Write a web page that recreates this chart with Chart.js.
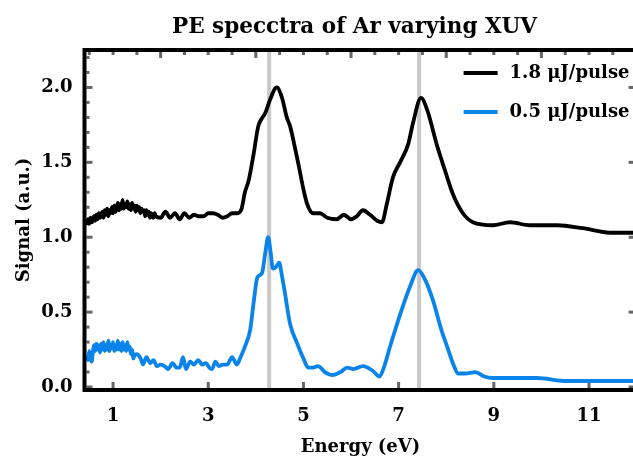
<!DOCTYPE html>
<html lang="en">
<head>
<meta charset="UTF-8">
<title>PE spectra</title>
<script src="https://cdn.jsdelivr.net/npm/chart.js"></script>
<style>
  html, body { margin: 0; padding: 0; overflow: hidden; background: #fff; }
  #wrap { width: 640px; height: 459px; }
</style>
</head>
<body>
<div id="wrap"><canvas id="myChart" width="640" height="459"></canvas></div>
<script>
// photoelectron energy (eV) and signal
const blackX = [0.450, 0.475, 0.500, 0.525, 0.550, 0.575, 0.600, 0.625, 0.650, 0.675, 0.700, 0.725, 0.750, 0.775, 0.800,
  0.825, 0.850, 0.875, 0.900, 0.925, 0.950, 0.975, 1.000, 1.025, 1.050, 1.075, 1.100, 1.125, 1.150, 1.175, 1.200,
  1.225, 1.250, 1.275, 1.300, 1.325, 1.350, 1.375, 1.400, 1.425, 1.450, 1.475, 1.500, 1.525, 1.550, 1.575, 1.600,
  1.625, 1.650, 1.675, 1.700, 1.725, 1.750, 1.775, 1.800, 1.825, 1.850, 1.875, 1.900,
  2.0, 2.1, 2.2, 2.3, 2.4, 2.5, 2.6, 2.7, 2.8, 2.9,
  3.0, 3.1, 3.2, 3.3, 3.4, 3.5, 3.6, 3.7, 3.77, 3.85, 3.95, 4.05, 4.12, 4.2, 4.3, 4.44, 4.55, 4.65, 4.72, 4.8,
  4.9, 5.0, 5.08, 5.2, 5.35, 5.5, 5.7, 5.85, 6.0, 6.12, 6.25, 6.4, 6.55, 6.65, 6.75, 6.88, 7.03, 7.2, 7.3, 7.47,
  7.6, 7.8, 8.0, 8.15, 8.35, 8.56, 8.98, 9.34, 9.76, 10.33, 10.87, 11.44, 12.0];
const blackY = [1.08, 1.12, 1.09, 1.13, 1.10, 1.11, 1.14, 1.11, 1.15, 1.12, 1.16, 1.13, 1.14, 1.17, 1.13,
  1.18, 1.15, 1.19, 1.14, 1.18, 1.16, 1.20, 1.16, 1.21, 1.17, 1.19, 1.23, 1.18, 1.22, 1.19, 1.25,
  1.19, 1.22, 1.20, 1.24, 1.19, 1.22, 1.18, 1.23, 1.19, 1.21, 1.17, 1.21, 1.18, 1.20, 1.16, 1.19,
  1.17, 1.18, 1.14, 1.18, 1.15, 1.17, 1.13, 1.16, 1.14, 1.13, 1.16, 1.14,
  1.13, 1.17, 1.13, 1.16, 1.12, 1.16, 1.13, 1.15, 1.14, 1.14,
  1.16, 1.16, 1.15, 1.13, 1.14, 1.16, 1.16, 1.19, 1.30, 1.38, 1.55, 1.74, 1.79, 1.83, 1.92, 2.00, 1.93, 1.80, 1.74, 1.63,
  1.48, 1.32, 1.22, 1.16, 1.16, 1.13, 1.12, 1.15, 1.12, 1.14, 1.18, 1.15, 1.11, 1.10, 1.22, 1.40, 1.50, 1.62, 1.76, 1.93,
  1.85, 1.62, 1.42, 1.28, 1.16, 1.10, 1.08, 1.10, 1.08, 1.08, 1.06, 1.03, 1.03];

const blueX = [0.450, 0.475, 0.500, 0.525, 0.550, 0.575, 0.600, 0.625, 0.650, 0.675, 0.700, 0.725, 0.750, 0.775, 0.800,
  0.825, 0.850, 0.875, 0.900, 0.925, 0.950, 0.975, 1.000, 1.025, 1.050, 1.075, 1.100, 1.125, 1.150, 1.175, 1.200,
  1.225, 1.250, 1.275, 1.300, 1.325, 1.350, 1.375, 1.400, 1.425, 1.450,
  1.50, 1.58, 1.63, 1.70, 1.78, 1.85, 1.92, 2.00, 2.08, 2.16, 2.25, 2.33, 2.40, 2.47, 2.53,
  2.62, 2.70, 2.79, 2.87, 2.95, 3.02, 3.08, 3.15, 3.22, 3.31, 3.40, 3.50, 3.60, 3.68, 3.77, 3.88, 3.96, 4.03, 4.13, 4.20,
  4.26, 4.31, 4.36, 4.42, 4.49, 4.55, 4.61, 4.72, 4.87, 5.0, 5.1, 5.2, 5.31, 5.45, 5.62, 5.78, 5.92, 6.05, 6.25, 6.45,
  6.6, 6.7, 6.82, 7.09, 7.25, 7.41, 7.55, 7.72, 7.9, 8.02, 8.15, 8.25, 8.4, 8.61, 8.8, 8.98, 9.4, 9.9, 10.54, 11.2, 12.0];
const blueY = [0.21, 0.18, 0.24, 0.19, 0.17, 0.23, 0.28, 0.24, 0.29, 0.25, 0.28, 0.23, 0.29, 0.25, 0.30,
  0.24, 0.28, 0.25, 0.31, 0.24, 0.28, 0.26, 0.30, 0.24, 0.28, 0.25, 0.31, 0.25, 0.29, 0.24, 0.30,
  0.25, 0.28, 0.24, 0.30, 0.25, 0.27, 0.22, 0.25, 0.19, 0.21,
  0.22, 0.19, 0.15, 0.20, 0.16, 0.18, 0.14, 0.15, 0.14, 0.12, 0.16, 0.13, 0.13, 0.20, 0.12,
  0.17, 0.15, 0.18, 0.15, 0.16, 0.13, 0.12, 0.17, 0.14, 0.15, 0.15, 0.20, 0.15, 0.20, 0.27, 0.38, 0.58, 0.73, 0.76, 0.90,
  1.00, 0.90, 0.79, 0.80, 0.83, 0.74, 0.63, 0.42, 0.29, 0.19, 0.13, 0.13, 0.14, 0.10, 0.08, 0.10, 0.13, 0.12, 0.14, 0.11,
  0.07, 0.14, 0.27, 0.54, 0.68, 0.78, 0.72, 0.58, 0.38, 0.27, 0.15, 0.09, 0.09, 0.10, 0.07, 0.06, 0.06, 0.06, 0.04, 0.04, 0.04];

const seriesLabels = ['1.8 \u03bcJ/pulse', '0.5 \u03bcJ/pulse'];
const xTickValues = [1, 3, 5, 7, 9, 11];
const yTickValues = [0, 0.5, 1.0, 1.5, 2.0];
const markerLines = [4.28, 7.43];   // gray guide lines
const chartTitle = 'PE specctra of Ar varying XUV';

const serif = "'DejaVu Serif', serif";

function toPoints(xs, ys) {
    return xs.map((v, i) => ({ x: v, y: ys[i] }));
}

// frame, inward ticks, guide lines, title and legend
const framePlugin = {
    id: 'frame',
    beforeDatasetsDraw(chart) {
        const { ctx, chartArea: a, scales: { x, y } } = chart;
        ctx.save();
        ctx.strokeStyle = '#c8c8c8';
        ctx.lineWidth = 4;
        markerLines.forEach(v => {
            const px = x.getPixelForValue(v);
            ctx.beginPath();
            ctx.moveTo(px, a.top);
            ctx.lineTo(px, a.bottom);
            ctx.stroke();
        });

        ctx.fillStyle = '#666';
        // left: minor every 0.1, longer at 0.5
        for (let i = 0; i <= 22; i++) {
            const py = y.getPixelForValue(i / 10);
            ctx.fillRect(a.left + 2, py - 1.5, i % 5 === 0 ? 6 : 3, 3);
        }
        // right: major only
        yTickValues.forEach(v => {
            const py = y.getPixelForValue(v);
            ctx.fillRect(a.right - 8, py - 1.5, 6, 3);
        });
        // top: every 0.5, longer at even numbers
        for (let i = 1; i <= 24; i++) {
            const px = x.getPixelForValue(i / 2);
            ctx.fillRect(px - 1.5, a.top + 2, 3, i % 4 === 0 ? 6 : 3);
        }
        // bottom: labelled ticks
        xTickValues.forEach(v => {
            const px = x.getPixelForValue(v);
            ctx.fillRect(px - 1.5, a.bottom - 8, 3, 6);
        });
        ctx.restore();
    },
    afterDatasetsDraw(chart) {
        const { ctx, chartArea: a } = chart;
        ctx.save();
        ctx.strokeStyle = '#000';
        ctx.lineWidth = 4;
        ctx.strokeRect(a.left, a.top, a.right - a.left, a.bottom - a.top);

        // title
        ctx.fillStyle = '#000';
        ctx.font = 'bold 21.5px ' + serif;
        ctx.textAlign = 'center';
        ctx.textBaseline = 'alphabetic';
        ctx.fillText(chartTitle, (a.left + a.right) / 2 - 6, 33);

        // legend
        ctx.font = 'bold 18px ' + serif;
        ctx.textBaseline = 'middle';
        ctx.textAlign = 'left';
        chart.data.datasets.forEach((ds, i) => {
            const ly = a.top + 23 + i * 39;
            ctx.strokeStyle = ds.borderColor;
            ctx.lineWidth = 4;
            ctx.beginPath();
            ctx.moveTo(a.right - 173, ly);
            ctx.lineTo(a.right - 139, ly);
            ctx.stroke();
            ctx.fillStyle = '#000';
            ctx.fillText(ds.label, a.right - 127, ly);
        });
        ctx.restore();
    }
};

const ctx = document.getElementById('myChart');

new Chart(ctx, {
    type: 'line',
    data: {
        datasets: [
            {
                label: seriesLabels[0],
                data: toPoints(blackX, blackY),
                borderColor: '#000000',
            },
            {
                label: seriesLabels[1],
                data: toPoints(blueX, blueY),
                borderColor: '#0a84e8',
            }
        ]
    },
    options: {
        responsive: false,
        animation: false,
        devicePixelRatio: 1,
        layout: { padding: { left: 0, right: 3.4, top: 50, bottom: 0 } },
        elements: {
            point: { radius: 0 },
            line: { borderWidth: 3.8, cubicInterpolationMode: 'monotone', fill: false, borderJoinStyle: 'round' }
        },
        plugins: {
            legend: { display: false },
            tooltip: { enabled: false },
            title: { display: false }
        },
        scales: {
            x: {
                type: 'linear',
                min: 0.4,
                max: 12,
                afterBuildTicks: (scale) => { scale.ticks = xTickValues.map(v => ({ value: v })); },
                afterFit: (scale) => { scale.height = 69; },
                grid: { display: false, drawTicks: false },
                border: { display: false },
                ticks: {
                    color: '#000',
                    padding: 16,
                    maxRotation: 0,
                    font: { family: serif, size: 18, weight: 'bold' },
                    callback: (v) => String(v)
                },
                title: {
                    display: true,
                    text: 'Energy (eV)',
                    color: '#000',
                    font: { family: serif, size: 18, weight: 'bold' },
                    padding: { top: 0, bottom: 1 }
                }
            },
            y: {
                min: -0.02,
                max: 2.25,
                afterBuildTicks: (scale) => { scale.ticks = yTickValues.map(v => ({ value: v })); },
                afterFit: (scale) => { scale.width = 84.5; },
                grid: { display: false, drawTicks: false },
                border: { display: false },
                ticks: {
                    color: '#000',
                    padding: 12,
                    font: { family: serif, size: 18, weight: 'bold' },
                    callback: (v) => v.toFixed(1)
                },
                title: {
                    display: true,
                    text: 'Signal (a.u.)',
                    color: '#000',
                    font: { family: serif, size: 18, weight: 'bold' },
                    padding: { top: 14, bottom: 0 }
                }
            }
        }
    },
    plugins: [framePlugin]
});
</script>
</body>
</html>
